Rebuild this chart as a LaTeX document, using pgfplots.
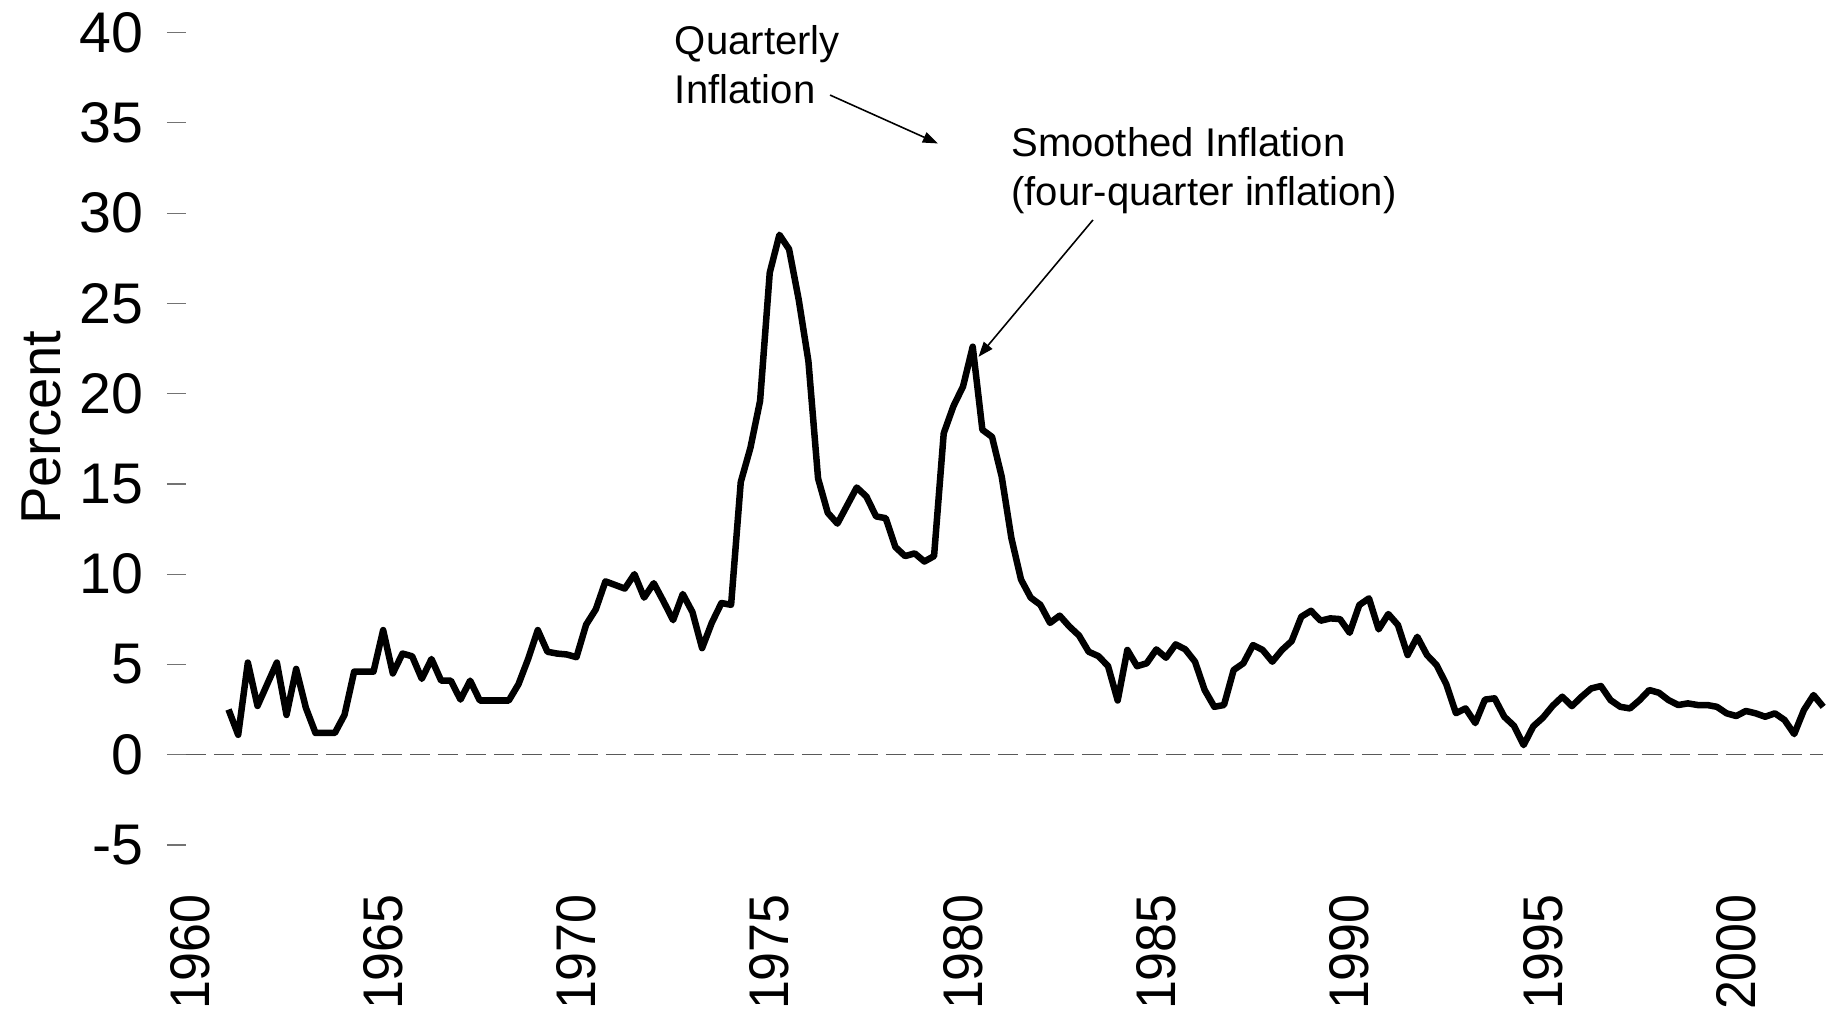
\documentclass[border=0pt]{standalone}
\usepackage{fontspec}
\setmainfont{Liberation Sans}
\newfontfamily\xfont{Liberation Sans}[FakeStretch=0.93]
\usepackage{pgfplots}
\pgfplotsset{compat=1.18}
\usetikzlibrary{arrows.meta}

\pgfplotstableread{
x y
1961.00 2.5
1961.25 1.1
1961.50 5.1
1961.75 2.7
1962.00 3.9
1962.25 5.1
1962.50 2.2
1962.75 4.75
1963.00 2.6
1963.25 1.2
1963.50 1.2
1963.75 1.2
1964.00 2.2
1964.25 4.6
1964.50 4.6
1964.75 4.6
1965.00 6.9
1965.25 4.5
1965.50 5.6
1965.75 5.45
1966.00 4.2
1966.25 5.3
1966.50 4.1
1966.75 4.1
1967.00 3.05
1967.25 4.1
1967.50 3.0
1967.75 3.0
1968.00 3.0
1968.25 3.0
1968.50 3.9
1968.75 5.3
1969.00 6.9
1969.25 5.7
1969.50 5.6
1969.75 5.55
1970.00 5.4
1970.25 7.2
1970.50 8.05
1970.75 9.6
1971.00 9.4
1971.25 9.2
1971.50 10.0
1971.75 8.7
1972.00 9.5
1972.25 8.5
1972.50 7.45
1972.75 8.9
1973.00 7.9
1973.25 5.9
1973.50 7.3
1973.75 8.4
1974.00 8.3
1974.25 15.1
1974.50 17.0
1974.75 19.6
1975.00 26.7
1975.25 28.8
1975.50 28.0
1975.75 25.2
1976.00 21.8
1976.25 15.3
1976.50 13.4
1976.75 12.8
1977.00 13.8
1977.25 14.8
1977.50 14.3
1977.75 13.2
1978.00 13.1
1978.25 11.5
1978.50 11.0
1978.75 11.15
1979.00 10.7
1979.25 11.0
1979.50 17.8
1979.75 19.3
1980.00 20.4
1980.25 22.6
1980.50 18.0
1980.75 17.6
1981.00 15.4
1981.25 12.0
1981.50 9.7
1981.75 8.7
1982.00 8.3
1982.25 7.3
1982.50 7.7
1982.75 7.1
1983.00 6.6
1983.25 5.7
1983.50 5.46
1983.75 4.91
1984.00 3.0
1984.25 5.8
1984.50 4.9
1984.75 5.06
1985.00 5.83
1985.25 5.37
1985.50 6.11
1985.75 5.83
1986.00 5.15
1986.25 3.58
1986.50 2.65
1986.75 2.75
1987.00 4.69
1987.25 5.06
1987.50 6.07
1987.75 5.8
1988.00 5.15
1988.25 5.8
1988.50 6.29
1988.75 7.64
1989.00 7.97
1989.25 7.42
1989.50 7.55
1989.75 7.51
1990.00 6.75
1990.25 8.29
1990.50 8.66
1990.75 6.94
1991.00 7.79
1991.25 7.18
1991.50 5.52
1991.75 6.53
1992.00 5.52
1992.25 4.96
1992.50 3.9
1992.75 2.3
1993.00 2.56
1993.25 1.75
1993.50 3.05
1993.75 3.12
1994.00 2.1
1994.25 1.6
1994.50 0.53
1994.75 1.57
1995.00 2.05
1995.25 2.7
1995.50 3.21
1995.75 2.69
1996.00 3.21
1996.25 3.67
1996.50 3.8
1996.75 3.02
1997.00 2.65
1997.25 2.56
1997.50 3.02
1997.75 3.58
1998.00 3.43
1998.25 3.02
1998.50 2.75
1998.75 2.84
1999.00 2.75
1999.25 2.75
1999.50 2.65
1999.75 2.29
2000.00 2.14
2000.25 2.42
2000.50 2.29
2000.75 2.1
2001.00 2.29
2001.25 1.92
2001.50 1.14
2001.75 2.47
2002.00 3.3
2002.25 2.65
}\inflation

\begin{document}
\begin{tikzpicture}
\useasboundingbox (-18.6mm,-17.31mm) rectangle (164.0mm,84.49mm);
\begin{axis}[
  at={(0,0)}, anchor=south west,
  scale only axis, width=163.72mm, height=81.23mm,
  xmin=1959.9, xmax=2002.25, ymin=-5, ymax=40,
  clip=false,
  axis x line*=bottom, axis y line*=left,
  axis line style={draw=none},
  tick align=outside,
  major tick length=1.9mm,
  xtick={1960,1965,1970,1975,1980,1985,1990,1995,2000},
  xticklabels={1960,1965,1970,1975,1980,1985,1990,1995,2000},
  ytick={-5,0,5,10,15,20,25,30,35,40},
  yticklabels={-5,0,5,10,15,20,25,30,35,40},
  xtick style={draw=none},
  ytick style={draw=black!55, line width=0.35pt},
  xticklabel style={font=\xfont\fontsize{15.9}{19}\selectfont, yshift=-1.8mm, rotate=90, anchor=east},
  yticklabel style={font=\fontsize{16.3}{19}\selectfont, anchor=east, xshift=-1.1mm},
  ylabel={Percent},
  ylabel style={font=\fontsize{16}{19}\selectfont, at={(axis description cs:-0.0685,0.5134)}, anchor=south},
]
\addplot[black!65, line width=0.45pt, dash pattern=on 2mm off 0.8mm] coordinates {(1959.9,0) (2002.25,0)};
\addplot[black, line width=1.85pt, line join=round, mark=none] table[x=x, y=y] {\inflation};

\node[anchor=base west, font=\fontsize{11.4}{13}\selectfont, inner sep=0pt] at (axis cs:1972.53,38.78) {Quarterly};
\node[anchor=base west, font=\fontsize{11.4}{13}\selectfont, inner sep=0pt] at (axis cs:1972.53,36.06) {Inflation};
\draw[-{Triangle[length=1.5mm,width=1.1mm]}, line width=0.45pt] (axis cs:1976.56,36.54) -- (axis cs:1979.35,33.86);

\node[anchor=base west, font=\fontsize{11.4}{13}\selectfont, inner sep=0pt] at (axis cs:1981.23,33.16) {Smoothed Inflation};
\node[anchor=base west, font=\fontsize{11.4}{13}\selectfont, inner sep=0pt] at (axis cs:1981.23,30.40) {(four-quarter inflation)};
\draw[-{Triangle[length=1.5mm,width=1.1mm]}, line width=0.45pt] (axis cs:1983.36,29.62) -- (axis cs:1980.40,22.04);
\end{axis}
\end{tikzpicture}
\end{document}
